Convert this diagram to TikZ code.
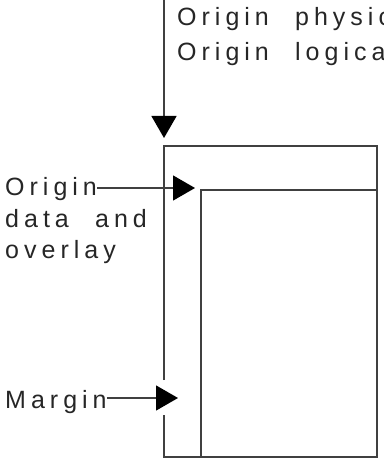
\documentclass[tikz,border=0pt]{standalone}
\usepackage{fontspec}
\setmainfont[LetterSpace=20,WordSpace=2.2]{Liberation Sans}
\usetikzlibrary{arrows.meta}
\begin{document}
\begin{tikzpicture}[x=1pt,y=-1pt,
  ln/.style={draw=black!75,line width=1.3pt},
  arr/.style={ln,-{Triangle[length=22pt,width=25pt,color=black]}},
  lbl/.style={inner sep=0pt,anchor=base west,text=black!85,align=left}]
\useasboundingbox (0,0) rectangle (383,465);
\clip (0,0) rectangle (383,465);
% page outlines
\draw[ln] (164,380) -- (164,146) -- (377,146) -- (377,457) -- (164,457) -- (164,415);
\draw[ln] (201,457) -- (201,190) -- (377,190);
% top labels (base anchor = last line)
\node[lbl,font=\fontsize{25}{35}\selectfont] (top) at (177,61) {Origin physical\\Origin logical};
\coordinate (topstart) at (164,0);
\coordinate (toptip) at (164,138);
\draw[arr] (topstart) -- (toptip);
% origin data and overlay
\node[lbl,font=\fontsize{25}{32}\selectfont] (orig) at (5,195) {Origin};
\node[lbl,font=\fontsize{25}{31}\selectfont] (origb) at (5,258) {data and\\overlay};
\coordinate (origtip) at (195,188);
\draw[arr] (orig.east |- origtip) -- (origtip);
% margin
\node[lbl,font=\fontsize{25}{32}\selectfont] (marg) at (5,408) {Margin};
\coordinate (margtip) at (178,398);
\draw[arr] (marg.east |- margtip) -- (margtip);
\end{tikzpicture}
\end{document}
